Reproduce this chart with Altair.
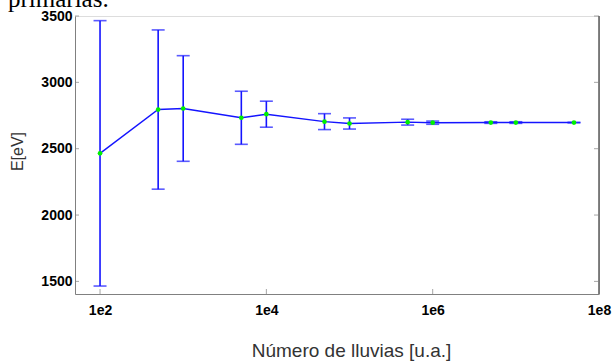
import altair as alt
import pandas as pd

# Data
showers = [1e2, 5e2, 1e3, 5e3, 1e4, 5e4, 1e5, 5e5, 1e6, 5e6, 1e7, 5e7]
energy = [2465, 2795, 2803, 2733, 2760, 2704, 2690, 2700, 2696, 2697, 2697, 2697]
error = [1000, 600, 398, 200, 98, 60, 42, 22, 12, 6, 6, 2]

x_ticks = [1e2, 1e4, 1e6, 1e8]
x_labels = ["1e2", "1e4", "1e6", "1e8"]
y_ticks = [1500, 2000, 2500, 3000, 3500]
x_domain = [50, 1e8]
y_domain = [1405, 3500]

df = pd.DataFrame({"n": showers, "e": energy, "err": error})
df["lo"] = df["e"] - df["err"]
df["hi"] = df["e"] + df["err"]

W, H = 524, 278
BLUE = "#1414ff"
AX = "#808080"

label_expr = " : ".join(
    f"datum.value == {v} ? '{l}'" for v, l in zip(x_ticks, x_labels)
) + " : ''"

xs = alt.Scale(type="log", domain=x_domain, nice=False)
ys = alt.Scale(domain=y_domain, nice=False, zero=False)

x_axis = alt.Axis(
    values=x_ticks, labelExpr=label_expr, ticks=False, grid=False,
    domainColor=AX, labelColor="black", labelFontSize=14, labelFont="Liberation Sans",
    labelFontWeight="bold", labelPadding=9, labelFlush=False,
    title="Número de lluvias [u.a.]", titleFont="Liberation Sans", titleFontSize=19,
    titleFontWeight="normal", titleColor="#333333", titleX=276, titleY=62,
    titleAlign="center", titleBaseline="alphabetic",
)
y_axis = alt.Axis(
    values=y_ticks, format="d", ticks=False, grid=False, domainColor=AX,
    labelColor="black", labelFontSize=14, labelFont="Liberation Sans",
    labelFontWeight="bold", labelPadding=3,
    title="E[eV]", titleFont="Liberation Sans", titleFontSize=16,
    titleFontWeight="normal", titleColor="#333333", titleX=-53, titleY=135,
    titleAlign="center", titleBaseline="alphabetic", titleAngle=270,
)

base = alt.Chart(df)

line = base.mark_line(color=BLUE, strokeWidth=1.4).encode(
    x=alt.X("n:Q", scale=xs, axis=x_axis),
    y=alt.Y("e:Q", scale=ys, axis=y_axis),
)
bars = base.mark_rule(color=BLUE, strokeWidth=1.6).encode(
    x=alt.X("n:Q", scale=xs), y=alt.Y("lo:Q", scale=ys), y2="hi:Q"
)
cap_lo = base.mark_tick(color=BLUE, orient="horizontal", size=13, thickness=1.6).encode(
    x=alt.X("n:Q", scale=xs), y=alt.Y("lo:Q", scale=ys)
)
cap_hi = base.mark_tick(color=BLUE, orient="horizontal", size=13, thickness=1.6).encode(
    x=alt.X("n:Q", scale=xs), y=alt.Y("hi:Q", scale=ys)
)
pts = base.mark_circle(color="#00f000", opacity=1, size=22).encode(
    x=alt.X("n:Q", scale=xs), y=alt.Y("e:Q", scale=ys)
)

ydf = pd.DataFrame({"v": y_ticks, "xl": x_domain[0], "xr": x_domain[1]})
xdf = pd.DataFrame({"v": x_ticks, "yb": y_domain[0]})

left_ticks = alt.Chart(ydf).mark_tick(color=AX, orient="horizontal", size=4, thickness=1, xOffset=2).encode(
    x=alt.X("xl:Q", scale=xs), y=alt.Y("v:Q", scale=ys)
)
right_ticks = alt.Chart(ydf).mark_tick(color=AX, orient="horizontal", size=5, thickness=1, xOffset=-2.5).encode(
    x=alt.X("xr:Q", scale=xs), y=alt.Y("v:Q", scale=ys)
)
bottom_ticks = alt.Chart(xdf).mark_tick(color=AX, orient="vertical", size=5, thickness=1, yOffset=-2.5).encode(
    x=alt.X("v:Q", scale=xs), y=alt.Y("yb:Q", scale=ys)
)
right_line = alt.Chart(xdf.head(1)).mark_rule(color="#333333", strokeWidth=1.2).encode(
    x=alt.value(W), y=alt.value(0), y2=alt.value(H)
)
top_text = alt.Chart(xdf.head(1)).mark_text(
    text="primarias.", font="Liberation Serif", fontSize=25, align="left",
    baseline="alphabetic", color="black",
).encode(x=alt.value(-67), y=alt.value(-9))

chart = alt.layer(
    right_line, left_ticks, right_ticks, bottom_ticks, bars, cap_lo, cap_hi, line, pts, top_text
).properties(
    width=W, height=H,
    autosize=alt.AutoSizeParams(type="none"),
    padding={"left": 75, "top": 16, "right": 15, "bottom": 68},
).configure_view(stroke=None).configure(background="white")

chart.save("out.html", embed_options={"renderer": "svg", "actions": False})
